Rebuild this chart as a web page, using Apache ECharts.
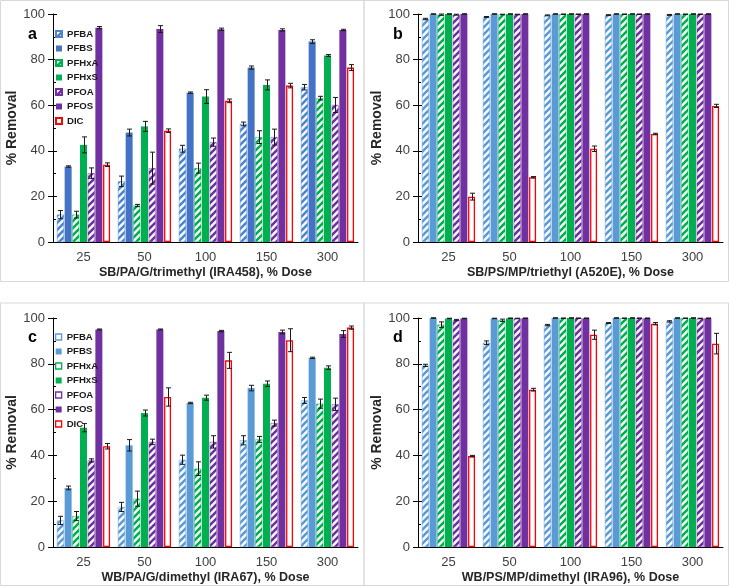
<!DOCTYPE html>
<html><head><meta charset="utf-8">
<script src="https://cdn.jsdelivr.net/npm/echarts@6/dist/echarts.min.js"></script>
<style>html,body{margin:0;padding:0;background:#fff}#c{width:729px;height:586px}</style>
</head><body><div id="c"></div>
<script>
// ---------- DATA ----------
const categories = ['25', '50', '100', '150', '300'];
const seriesNames = ['PFBA', 'PFBS', 'PFHxA', 'PFHxS', 'PFOA', 'PFOS', 'DIC'];
const panelLetters = ['a', 'b', 'c', 'd'];
const axisTitles = [
  'SB/PA/G/trimethyl (IRA458), % Dose',
  'SB/PS/MP/triethyl (A520E), % Dose',
  'WB/PA/G/dimethyl (IRA67), % Dose',
  'WB/PS/MP/dimethyl (IRA96), % Dose'
];
const yAxisTitle = '% Removal';
const yMin = 0, yMax = 100, yStep = 20;

// rows: PFBA, PFBS, PFHxA, PFHxS, PFOA, PFOS, DIC ; columns: categories
const valuesA = [
  [12.0, 26.6, 40.9, 51.8, 67.9],
  [33.1, 48.0, 65.5, 76.5, 87.9],
  [12.0, 16.0, 32.4, 46.0, 63.1],
  [42.6, 50.7, 63.8, 68.9, 81.8],
  [30.2, 32.4, 43.8, 46.0, 60.1],
  [94.0, 93.4, 93.3, 93.0, 93.0],
  [33.9, 48.8, 61.9, 68.6, 76.5]
];
const errorsA = [
  [1.8, 2.3, 1.5, 0.8, 1.2],
  [0.3, 1.5, 0.3, 0.7, 0.8],
  [1.5, 0.5, 2.2, 2.8, 0.8],
  [3.5, 2.2, 3.0, 2.2, 0.4],
  [2.3, 7.0, 1.8, 3.5, 3.3],
  [0.5, 1.5, 0.5, 0.5, 0.3],
  [0.8, 0.8, 0.8, 1.0, 1.3]
];
const valuesB = [
  [97.8, 98.7, 99.4, 99.5, 99.6],
  [100, 100, 100, 100, 100],
  [99.7, 99.8, 99.9, 99.9, 99.9],
  [100, 100, 100, 100, 100],
  [99.7, 99.8, 99.9, 99.9, 99.9],
  [100, 100, 100, 100, 100],
  [19.9, 28.4, 40.9, 47.4, 59.7]
];
const errorsB = [
  [0.3, 0.2, 0.2, 0.2, 0.2],
  [0.1, 0.1, 0.1, 0.1, 0.1],
  [0.3, 0.1, 0.1, 0.1, 0.1],
  [0.1, 0.1, 0.1, 0.1, 0.1],
  [0.2, 0.1, 0.1, 0.1, 0.1],
  [0.1, 0.1, 0.1, 0.1, 0.1],
  [1.5, 0.3, 1.2, 0.3, 0.7]
];
const valuesC = [
  [11.6, 17.5, 38.1, 46.6, 64.0],
  [25.8, 44.4, 62.9, 69.4, 82.6],
  [13.5, 21.1, 34.2, 47.0, 62.6],
  [52.1, 58.5, 65.2, 71.3, 78.3],
  [37.8, 45.9, 45.9, 54.1, 62.3],
  [95.0, 95.0, 94.3, 93.9, 93.0],
  [44.0, 65.5, 81.5, 90.3, 95.8]
];
const errorsC = [
  [1.8, 2.0, 2.0, 2.0, 1.3],
  [0.8, 2.5, 0.3, 1.2, 0.3],
  [2.0, 3.3, 3.0, 1.3, 2.0],
  [1.8, 1.3, 1.1, 1.2, 0.8],
  [0.7, 1.2, 2.7, 1.3, 2.7],
  [0.2, 0.2, 0.3, 0.8, 1.5],
  [1.2, 4.0, 3.5, 5.0, 0.7]
];
const valuesD = [
  [79.3, 89.2, 96.9, 97.8, 98.5],
  [100, 99.8, 100, 100, 100],
  [97.1, 99.0, 99.9, 99.9, 99.9],
  [99.8, 99.9, 100, 100, 100],
  [99.1, 99.8, 99.9, 99.9, 99.8],
  [99.8, 99.9, 99.9, 99.9, 99.9],
  [39.7, 68.7, 92.7, 97.5, 88.8]
];
const errorsD = [
  [0.5, 0.8, 0.3, 0.2, 0.3],
  [0.1, 0.1, 0.1, 0.1, 0.1],
  [1.2, 0.5, 0.1, 0.1, 0.1],
  [0.1, 0.1, 0.1, 0.1, 0.1],
  [0.3, 0.1, 0.1, 0.1, 0.1],
  [0.1, 0.1, 0.1, 0.1, 0.1],
  [0.3, 0.6, 2.0, 0.5, 4.5]
];
const panelValues = [valuesA, valuesB, valuesC, valuesD];
const panelErrors = [errorsA, errorsB, errorsC, errorsD];

// ---------- STYLE ----------
const FONT = 'Liberation Sans, Arial, sans-serif';
const CAT_GAP = 0.13, BAR_GAP = 0.10;
const lightBlue = '#5b9bd5', darkBlue = '#4472c4', green = '#00b050', purple = '#7030a0', red = '#ff0000';
const panelColors = [
  ['#4a86cf', darkBlue, green, green, purple, purple, red],
  [lightBlue, lightBlue, green, green, purple, purple, red],
  [lightBlue, lightBlue, green, green, purple, purple, red],
  [lightBlue, lightBlue, green, green, purple, purple, red]
];
const hatched = [true, false, true, false, true, false, false];

function stripes(color) {
  const s = 7, c = document.createElement('canvas');
  c.width = s; c.height = s;
  const g = c.getContext('2d');
  g.fillStyle = '#fff'; g.fillRect(0, 0, s, s);
  g.strokeStyle = color; g.lineWidth = 2.6; g.lineCap = 'square';
  g.beginPath();
  g.moveTo(-1, 1); g.lineTo(1, -1);
  g.moveTo(0, s); g.lineTo(s, 0);
  g.moveTo(s - 1, s + 1); g.lineTo(s + 1, s - 1);
  g.stroke();
  return { image: c, repeat: 'repeat' };
}

const grids = [
  { left: 53, top: 14, width: 305, height: 228 },
  { left: 418, top: 14, width: 305, height: 228 },
  { left: 53, top: 318, width: 305, height: 229 },
  { left: 418, top: 318, width: 305, height: 229 }
];

const xAxes = [], yAxes = [], series = [];
grids.forEach((gr, g) => {
  xAxes.push({
    gridIndex: g, type: 'category', data: categories,
    axisLine: { lineStyle: { color: '#000', width: 1 } },
    axisTick: { length: 6, lineStyle: { color: '#000' } },
    axisLabel: { fontSize: 13, color: '#404040', margin: 9, fontFamily: FONT },
    name: axisTitles[g], nameLocation: 'middle', nameGap: 24,
    nameTextStyle: { fontSize: 12.5, fontWeight: 'bold', color: '#262626', fontFamily: FONT }
  });
  yAxes.push({
    gridIndex: g, type: 'value', min: yMin, max: yMax, interval: yStep, position: 'left',
    axisLine: { show: true, lineStyle: { color: '#000', width: 1 } },
    axisTick: { show: true, length: 5, lineStyle: { color: '#000' } },
    axisLabel: { fontSize: 13, color: '#404040', margin: 8, fontFamily: FONT },
    splitLine: { show: false },
    name: yAxisTitle, nameLocation: 'middle', nameRotate: 90, nameGap: 34,
    nameTextStyle: { fontSize: 14, fontWeight: 'bold', color: '#262626', fontFamily: FONT }
  });
  yAxes.push({
    gridIndex: g, type: 'value', min: yMin, max: yMax, interval: yStep, position: 'left',
    axisLine: { show: false }, axisLabel: { show: false }, splitLine: { show: false },
    axisTick: { show: true, inside: true, length: 4, lineStyle: { color: '#000' } },
    minorTick: { show: true, splitNumber: 2, length: 3, lineStyle: { color: '#000' } }
  });
});

grids.forEach((gr, g) => {
  const vals = panelValues[g], errs = panelErrors[g], cols = panelColors[g];
  seriesNames.forEach((nm, s) => {
    let itemStyle;
    if (nm === 'DIC') itemStyle = { color: '#fff', borderColor: red, borderWidth: 1.3 };
    else if (hatched[s]) itemStyle = { color: stripes(cols[s]), borderColor: cols[s], borderWidth: 0.5 };
    else itemStyle = { color: cols[s] };
    series.push({
      type: 'bar', name: nm, xAxisIndex: g, yAxisIndex: g * 2,
      data: vals[s], barCategoryGap: (CAT_GAP * 100) + '%', barGap: (BAR_GAP * 100) + '%',
      itemStyle: itemStyle, silent: true, animation: false
    });
  });
  const errData = [];
  seriesNames.forEach((nm, s) => {
    categories.forEach((c, ci) => errData.push([ci, vals[s][ci], errs[s][ci], s]));
  });
  series.push({
    type: 'custom', name: 'err' + g, xAxisIndex: g, yAxisIndex: g * 2,
    data: errData, encode: { x: 0, y: 1 }, z: 5, silent: true, animation: false,
    renderItem: function (params, api) {
      const ci = api.value(0), v = api.value(1), e = api.value(2), si = api.value(3);
      const band = api.size([1, 0])[0];
      const remained = band * (1 - CAT_GAP);
      const n = seriesNames.length;
      const w = remained / (n + (n - 1) * BAR_GAP);
      const off = -remained / 2 + si * w * (1 + BAR_GAP) + w / 2;
      const top = api.coord([ci, v + e]), bot = api.coord([ci, v - e]);
      const x = Math.round(top[0] + off) + 0.5;
      const cap = 2.5;
      const st = { stroke: '#1a1a1a', lineWidth: 1 };
      return {
        type: 'group', children: [
          { type: 'line', shape: { x1: x, y1: top[1], x2: x, y2: bot[1] }, style: st },
          { type: 'line', shape: { x1: x - cap, y1: top[1], x2: x + cap, y2: top[1] }, style: st },
          { type: 'line', shape: { x1: x - cap, y1: bot[1], x2: x + cap, y2: bot[1] }, style: st }
        ]
      };
    }
  });
});

const legendText = { fontSize: 9.6, fontWeight: 'bold', color: '#1a1a1a', fontFamily: FONT };
const legendA = {
  left: 55, top: 29, padding: 0, orient: 'vertical', itemWidth: 6, itemHeight: 6, itemGap: 4.5,
  icon: 'rect', textStyle: legendText, selectedMode: false, z: 10,
  data: seriesNames.slice()
};
const legendC = {
  left: 55, top: 332, padding: 0, orient: 'vertical', itemWidth: 6, itemHeight: 6, itemGap: 4.5,
  icon: 'rect', textStyle: legendText, selectedMode: false, z: 10,
  data: seriesNames.map((nm, s) => {
    const col = panelColors[2][s];
    if (hatched[s] || nm === 'DIC') return { name: nm, itemStyle: { color: '#fff', borderColor: col, borderWidth: 1.3 } };
    return { name: nm, itemStyle: { color: col, borderWidth: 0 } };
  })
};

const borders = [[0.5, 0.5, 363.5, 281], [364, 0.5, 364.5, 281], [0.5, 303, 363.5, 282.5], [364, 303, 364.5, 282.5]];
const letterPos = [[28, 27], [393, 27], [28, 330], [393, 330]];
const graphic = [];
borders.forEach(b => graphic.push({ type: 'rect', shape: { x: b[0], y: b[1], width: b[2], height: b[3] }, style: { fill: 'none', stroke: '#d9d9d9', lineWidth: 1 }, silent: true, z: -1 }));
panelLetters.forEach((l, i) => graphic.push({ type: 'text', x: letterPos[i][0], y: letterPos[i][1], style: { text: l, font: 'bold 16px ' + FONT, fill: '#000' }, silent: true }));

const chart = echarts.init(document.getElementById('c'), null, { renderer: 'canvas' });
chart.setOption({
  animation: false, backgroundColor: '#fff',
  grid: grids, xAxis: xAxes, yAxis: yAxes, series: series,
  legend: [legendA, legendC], graphic: graphic
});
</script></body></html>
